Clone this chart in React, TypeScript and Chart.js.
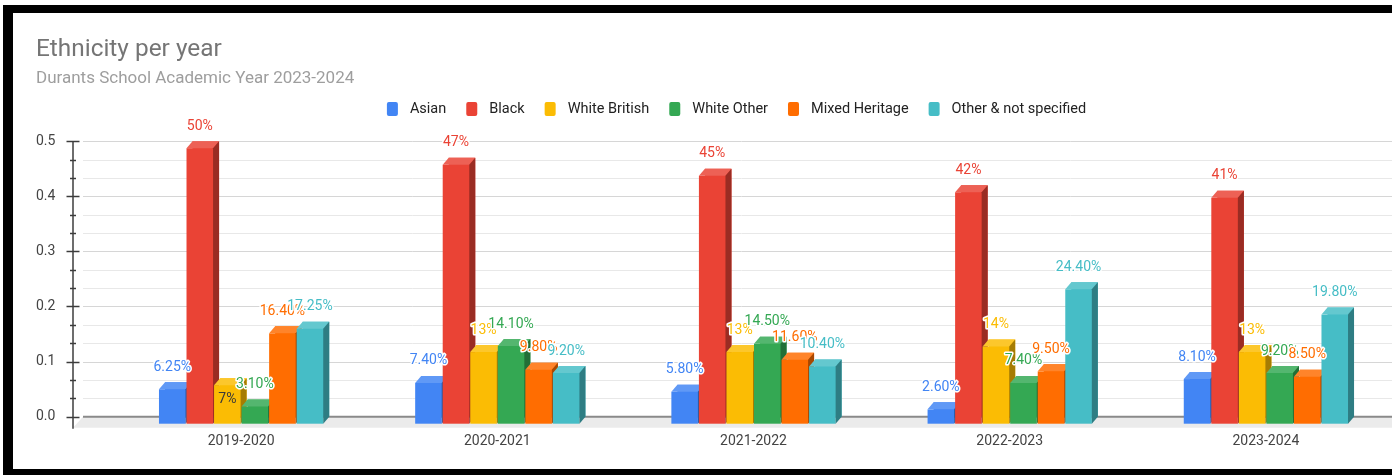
import React, { useEffect, useRef } from 'react';
import { Chart, registerables } from 'chart.js';

Chart.register(...registerables);

// ---------- data ----------
const years = ['2019-2020', '2020-2021', '2021-2022', '2022-2023', '2023-2024'];
const seriesNames = ['Asian', 'Black', 'White British', 'White Other', 'Mixed Heritage', 'Other & not specified'];
const asian = [0.0625, 0.074, 0.058, 0.026, 0.081];
const black = [0.5, 0.47, 0.45, 0.42, 0.41];
const whiteBritish = [0.07, 0.13, 0.13, 0.14, 0.13];
const whiteOther = [0.031, 0.141, 0.145, 0.074, 0.092];
const mixedHeritage = [0.164, 0.098, 0.116, 0.095, 0.085];
const otherNotSpecified = [0.1725, 0.092, 0.104, 0.244, 0.198];
const seriesValues = [asian, black, whiteBritish, whiteOther, mixedHeritage, otherNotSpecified];
const seriesColors = ['#4285F4', '#EA4335', '#FBBC04', '#34A853', '#FF6D01', '#46BDC6'];
const yTickLabels = ['0.0', '0.1', '0.2', '0.3', '0.4', '0.5'];
const minorPerMajor = 3;
// labels that the reference prints inside the bar (series index, category index)
const insideLabels = [{ series: 2, index: 0 }];

const TITLE = 'Ethnicity per year';
const SUBTITLE = 'Durants School Academic Year 2023-2024';

// ---------- style constants ----------
const FONT = 'Roboto';
const DX = 6; // 3D bar depth (x)
const DY = 7; // 3D bar depth (y)
const FLOOR_DX = 10;
const FLOOR_DY = 11;
const GRID_LEFT_GAP = 36; // gridlines start this far left of the category band
const LEGEND_CENTER = 736.5;
const LEGEND_Y = 109;

function hexToRgb(hex: string) {
  const h = hex.replace('#', '');
  return [parseInt(h.slice(0, 2), 16), parseInt(h.slice(2, 4), 16), parseInt(h.slice(4, 6), 16)];
}
function shade(hex: string, f: number) {
  const [r, g, b] = hexToRgb(hex);
  return `rgb(${Math.round(r * f)},${Math.round(g * f)},${Math.round(b * f)})`;
}
function tint(hex: string, a: number) {
  const [r, g, b] = hexToRgb(hex);
  return `rgb(${Math.round(r + (255 - r) * a)},${Math.round(g + (255 - g) * a)},${Math.round(b + (255 - b) * a)})`;
}
function fmtPct(v: number) {
  const p = v * 100;
  const r = Math.round(p);
  return Math.abs(p - r) < 1e-6 ? `${r}%` : `${p.toFixed(2)}%`;
}

const backgroundPlugin = {
  id: 'gridFloorAxis',
  beforeDatasetsDraw(chart: any) {
    const ctx = chart.ctx;
    const yScale = chart.scales.y;
    const { left, right } = chart.chartArea;
    const gridLeft = left - GRID_LEFT_GAP;
    const axisX = gridLeft - FLOOR_DX;
    const y0 = yScale.getPixelForValue(0);
    const yTop = yScale.getPixelForValue(yScale.max);
    ctx.save();
    // floor
    ctx.fillStyle = '#ebebeb';
    ctx.beginPath();
    ctx.moveTo(gridLeft, y0);
    ctx.lineTo(right, y0);
    ctx.lineTo(right, y0 + FLOOR_DY);
    ctx.lineTo(axisX, y0 + FLOOR_DY);
    ctx.closePath();
    ctx.fill();
    // gridlines
    const nMajor = yTickLabels.length - 1;
    const nLines = nMajor * minorPerMajor;
    for (let k = 1; k <= nLines; k++) {
      const v = (yScale.max - yScale.min) * (k / nLines) + yScale.min;
      const py = Math.round(yScale.getPixelForValue(v)) + 0.5;
      ctx.strokeStyle = k % minorPerMajor === 0 ? '#d6d6d6' : '#e8e8e8';
      ctx.lineWidth = 1;
      ctx.beginPath();
      ctx.moveTo(gridLeft, py);
      ctx.lineTo(right, py);
      ctx.stroke();
    }
    // baseline
    ctx.strokeStyle = '#8a8a8a';
    ctx.lineWidth = 2;
    ctx.beginPath();
    ctx.moveTo(gridLeft, y0);
    ctx.lineTo(right, y0);
    ctx.stroke();
    // y axis line and ticks
    ctx.strokeStyle = '#3c3c3c';
    ctx.lineWidth = 1.5;
    ctx.beginPath();
    ctx.moveTo(axisX, yTop);
    ctx.lineTo(axisX, y0 + FLOOR_DY + 1);
    ctx.stroke();
    for (let k = 0; k <= nLines; k++) {
      const v = (yScale.max - yScale.min) * (k / nLines) + yScale.min;
      const py = Math.round(yScale.getPixelForValue(v)) + 0.5;
      const half = k % minorPerMajor === 0 ? 6.5 : 3;
      ctx.beginPath();
      ctx.moveTo(axisX - half, py);
      ctx.lineTo(axisX + half, py);
      ctx.stroke();
    }
    ctx.restore();
  },
};

const bars3dPlugin = {
  id: 'bars3d',
  afterDatasetsDraw(chart: any) {
    const ctx = chart.ctx;
    ctx.save();
    chart.data.datasets.forEach((_ds: any, di: number) => {
      const meta = chart.getDatasetMeta(di);
      const col = seriesColors[di];
      meta.data.forEach((el: any) => {
        const { x, y, base, width } = el.getProps(['x', 'y', 'base', 'width'], true);
        const l = x - width / 2;
        const r = x + width / 2;
        // front face
        ctx.fillStyle = col;
        ctx.fillRect(l - DX, y + DY, width, base - y);
        // top face
        ctx.fillStyle = tint(col, 0.16);
        ctx.beginPath();
        ctx.moveTo(l - DX, y + DY);
        ctx.lineTo(l, y);
        ctx.lineTo(r, y);
        ctx.lineTo(r - DX, y + DY);
        ctx.closePath();
        ctx.fill();
        // side face
        ctx.fillStyle = shade(col, 0.66);
        ctx.beginPath();
        ctx.moveTo(r - DX, y + DY);
        ctx.lineTo(r, y);
        ctx.lineTo(r, base);
        ctx.lineTo(r - DX, base + DY);
        ctx.closePath();
        ctx.fill();
      });
    });
    // data labels
    ctx.font = `14px ${FONT}`;
    ctx.textAlign = 'center';
    ctx.textBaseline = 'middle';
    ctx.lineJoin = 'round';
    chart.data.datasets.forEach((ds: any, di: number) => {
      const meta = chart.getDatasetMeta(di);
      meta.data.forEach((el: any, i: number) => {
        const { x, y } = el.getProps(['x', 'y'], true);
        const text = fmtPct(ds.data[i]);
        const inside = insideLabels.some((o) => o.series === di && o.index === i);
        if (inside) {
          ctx.fillStyle = '#3a3a3a';
          ctx.fillText(text, x - DX, y + DY + 14);
        } else {
          ctx.strokeStyle = '#ffffff';
          ctx.lineWidth = 3;
          ctx.strokeText(text, x - DX, y - 15);
          ctx.fillStyle = seriesColors[di];
          ctx.fillText(text, x - DX, y - 15);
        }
      });
    });
    ctx.restore();
  },
};

const legendPlugin = {
  id: 'customLegend',
  afterDraw(chart: any) {
    const ctx = chart.ctx;
    ctx.save();
    ctx.font = `14.5px ${FONT}`;
    const boxW = 11;
    const boxH = 14;
    const textGap = 12;
    const itemGap = 20;
    const widths = seriesNames.map((n) => ctx.measureText(n).width);
    const total = widths.reduce((s, w) => s + boxW + textGap + w, 0) + itemGap * (seriesNames.length - 1);
    let x = LEGEND_CENTER - total / 2;
    ctx.textBaseline = 'middle';
    ctx.textAlign = 'left';
    seriesNames.forEach((name, i) => {
      ctx.fillStyle = seriesColors[i];
      ctx.beginPath();
      if ((ctx as any).roundRect) (ctx as any).roundRect(x, LEGEND_Y - boxH / 2, boxW, boxH, 2);
      else ctx.rect(x, LEGEND_Y - boxH / 2, boxW, boxH);
      ctx.fill();
      ctx.fillStyle = '#222222';
      ctx.fillText(name, x + boxW + textGap, LEGEND_Y);
      x += boxW + textGap + widths[i] + itemGap;
    });
    ctx.restore();
  },
};

export default function App() {
  const canvasRef = useRef<HTMLCanvasElement | null>(null);

  useEffect(() => {
    document.body.style.margin = '0';
    document.body.style.overflow = 'hidden';
    const canvas = canvasRef.current;
    if (!canvas) return;
    Chart.defaults.font.family = FONT;
    const chart = new Chart(canvas, {
      type: 'bar',
      data: {
        labels: years,
        datasets: seriesNames.map((name, i) => ({
          label: name,
          data: seriesValues[i],
          backgroundColor: seriesColors[i],
          borderWidth: 0,
          categoryPercentage: 0.645,
          barPercentage: 0.964,
        })),
      },
      options: {
        responsive: false,
        animation: false,
        devicePixelRatio: 1,
        layout: { padding: { left: 36, top: 35.5, right: 0, bottom: 9 } },
        plugins: {
          legend: { display: false },
          tooltip: { enabled: false },
          title: {
            display: true,
            text: TITLE,
            align: 'start',
            color: '#757575',
            font: { family: FONT, size: 24.4, weight: 'normal' },
            padding: { top: 0, bottom: 0 },
          },
          subtitle: {
            display: true,
            text: SUBTITLE,
            align: 'start',
            color: '#9e9e9e',
            font: { family: FONT, size: 17, weight: 'normal' },
            padding: { top: 4, bottom: 52 },
          },
        },
        scales: {
          x: {
            offset: true,
            afterFit: (s: any) => {
              s.height = 49.3;
            },
            grid: { display: false, drawTicks: false },
            border: { display: false },
            ticks: { font: { family: FONT, size: 14 }, color: '#444444', padding: 16, labelOffset: -DX },
          },
          y: {
            min: 0,
            max: 0.5,
            afterFit: (s: any) => {
              s.width = 83;
            },
            grid: { display: false, drawTicks: false },
            border: { display: false },
            ticks: {
              stepSize: 0.1,
              padding: 0,
              crossAlign: 'far',
              font: { family: FONT, size: 14 },
              color: '#444444',
              callback: (_v: any, i: number) => yTickLabels[i],
            },
          },
        },
      } as any,
      plugins: [backgroundPlugin, bars3dPlugin, legendPlugin],
    });
    return () => chart.destroy();
  }, []);

  return (
    <div style={{ position: 'relative', width: 1392, height: 475, overflow: 'hidden', background: '#ffffff' }}>
      <canvas
        ref={canvasRef}
        width={1400}
        height={475}
        style={{ position: 'absolute', left: 0, top: 0, width: 1400, height: 475 }}
      />
      <div style={{ position: 'absolute', left: 3, top: 5, width: 1389, height: 8, background: '#000' }} />
      <div style={{ position: 'absolute', left: 3, top: 5, width: 10, height: 470, background: '#000' }} />
      <div style={{ position: 'absolute', left: 3, top: 469, width: 1389, height: 6, background: '#000' }} />
    </div>
  );
}
